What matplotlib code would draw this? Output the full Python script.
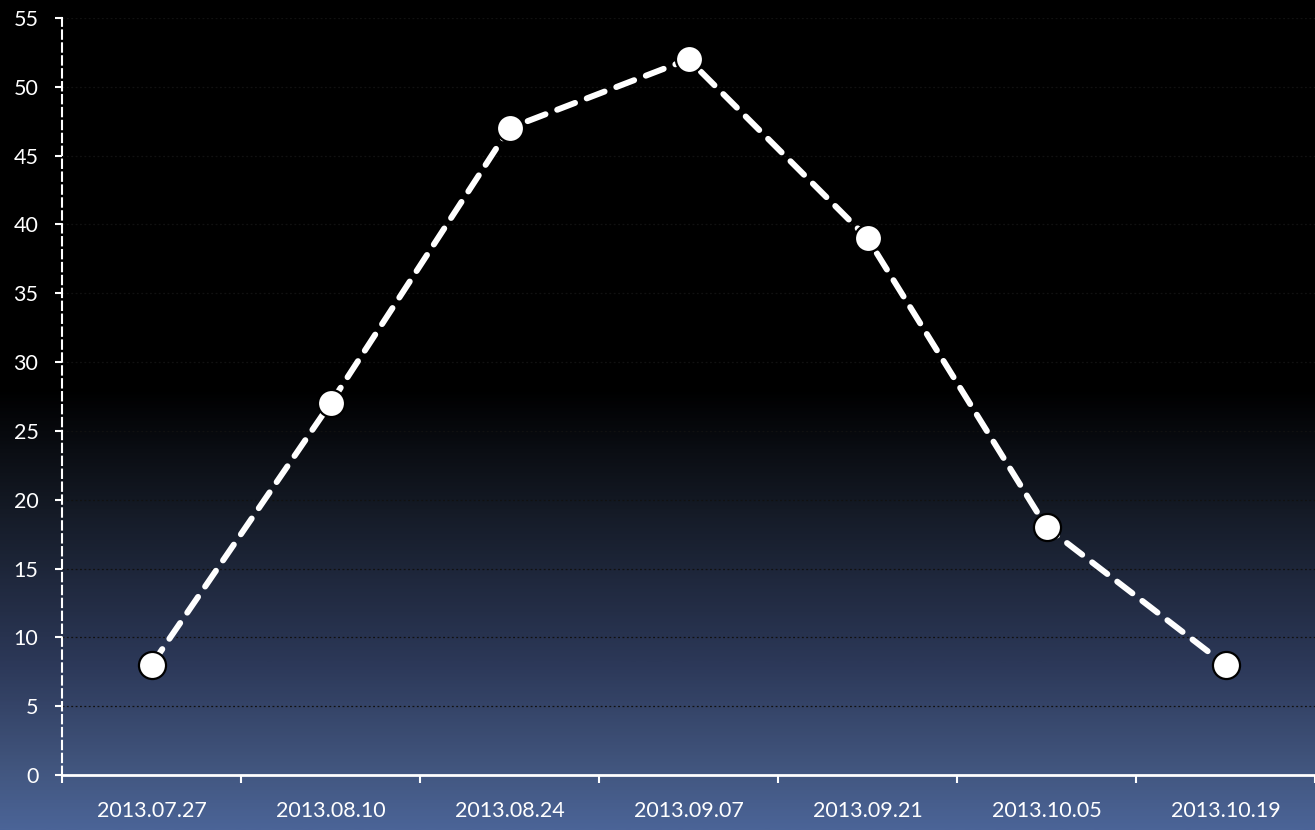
import numpy as np
import matplotlib
matplotlib.use("Agg")
import matplotlib.pyplot as plt
from matplotlib.colors import LinearSegmentedColormap

dates = ["2013.07.27", "2013.08.10", "2013.08.24", "2013.09.07",
         "2013.09.21", "2013.10.05", "2013.10.19"]
values = [8, 27, 47, 52, 39, 18, 8]
yticks = list(range(0, 56, 5))

plt.rcParams['font.family'] = ['Lato', 'DejaVu Sans']

fig = plt.figure(figsize=(13.15, 8.3), dpi=100)

# background gradient: black on top, slate blue at the bottom
bg = fig.add_axes([0, 0, 1, 1], zorder=0)
bg.axis("off")
cmap = LinearSegmentedColormap.from_list(
    "bg", [(0, "#000000"), (0.47, "#000000"), (0.62, "#151b27"),
           (0.80, "#2c3858"), (0.93, "#42567f"), (1.0, "#4b6497")])
grad = np.linspace(0, 1, 500).reshape(-1, 1)
bg.imshow(grad, aspect="auto", cmap=cmap, extent=[0, 1, 0, 1], origin="upper")
bg.set_xlim(0, 1)
bg.set_ylim(0, 1)

ax = fig.add_axes([62 / 1315, 55 / 830, 1 - 62 / 1315, 757 / 830], zorder=1)
ax.patch.set_alpha(0)

x = np.arange(len(dates))
ax.plot(x, values, color="white", lw=4.3, dashes=(3.2, 2.1),
        dash_capstyle="round", solid_capstyle="round", zorder=3)
ax.plot(x, values, "o", color="white", ms=19.5, mec="black", mew=1.6,
        zorder=4, linestyle="none")

ax.set_xlim(-0.5, 6.43)
ax.set_ylim(0, 55)

ax.set_yticks(yticks)
ax.set_yticklabels([str(v) for v in yticks])
ax.set_xticks(np.arange(len(dates) + 1) - 0.5)
ax.set_xticklabels([])
ax.set_xticks(x, minor=True)
ax.set_xticklabels(dates, minor=True)

ax.tick_params(axis="y", colors="white", labelsize=15.5, length=5, width=1.5,
               pad=12, labelcolor="white")
ax.tick_params(axis="x", which="major", colors="white", length=6, width=1.5)
ax.tick_params(axis="x", which="minor", length=0, pad=19, labelsize=15.5,
               labelcolor="white")

for v in yticks[1:]:
    ax.axhline(v, color="#111111", lw=0.9, ls=(0, (1.5, 2)), zorder=1)

for s in ["top", "right"]:
    ax.spines[s].set_visible(False)
ax.spines["bottom"].set_color("white")
ax.spines["bottom"].set_linewidth(2)
ax.spines["left"].set_color("white")
ax.spines["left"].set_linewidth(1.5)
ax.spines["left"].set_linestyle((0, (4, 2.2)))

fig.savefig("out.png", dpi=100)
